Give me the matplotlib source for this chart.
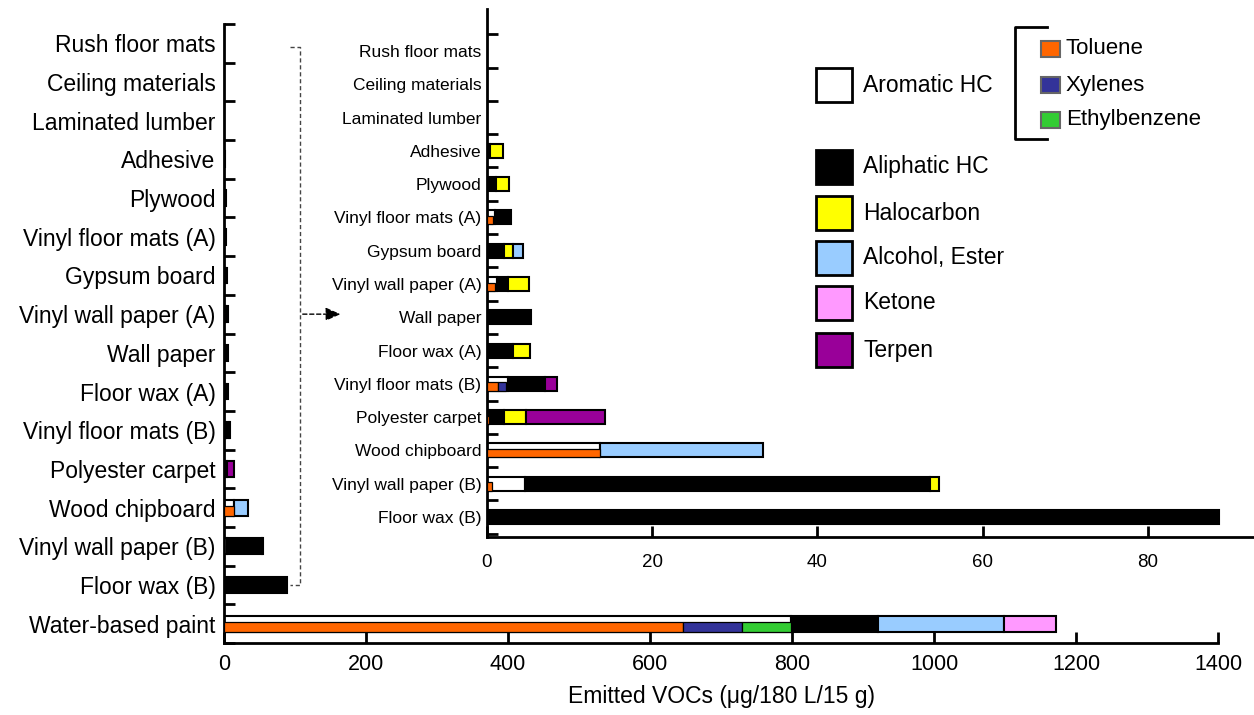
import matplotlib
matplotlib.use("Agg")
import matplotlib.pyplot as plt
from matplotlib.patches import Rectangle
from matplotlib.lines import Line2D
import numpy as np

plt.rcParams['font.family'] = ['Liberation Sans', 'DejaVu Sans']

# rows top to bottom
materials = ["Rush floor mats", "Ceiling materials", "Laminated lumber", "Adhesive",
             "Plywood", "Vinyl floor mats (A)", "Gypsum board", "Vinyl wall paper (A)",
             "Wall paper", "Floor wax (A)", "Vinyl floor mats (B)", "Polyester carpet",
             "Wood chipboard", "Vinyl wall paper (B)", "Floor wax (B)", "Water-based paint"]

aromatic     = [0, 0, 0, 0, 0, 1.0, 0, 1.2, 0, 0, 2.5, 0.3, 13.7, 4.6, 0, 798]
toluene      = [0, 0, 0, 0, 0, 0.7, 0, 1.0, 0, 0, 1.3, 0.3, 13.7, 0.6, 0, 646]
xylenes      = [0, 0, 0, 0, 0, 0, 0, 0, 0, 0, 1.0, 0, 0, 0, 0, 84]
ethylbenzene = [0, 0, 0, 0, 0, 0, 0, 0, 0, 0, 0, 0, 0, 0, 0, 68]
aliphatic    = [0, 0, 0, 0.4, 1.1, 1.9, 2.0, 1.3, 5.3, 3.1, 4.5, 1.7, 0, 49.0, 88.6, 123]
halocarbon   = [0, 0, 0, 1.5, 1.6, 0, 1.2, 2.6, 0, 2.1, 0, 2.7, 0, 1.1, 0, 0]
alcohol      = [0, 0, 0, 0, 0, 0, 1.2, 0, 0, 0, 0, 0, 19.7, 0, 0, 177]
ketone       = [0, 0, 0, 0, 0, 0, 0, 0, 0, 0, 0, 0, 0, 0, 0, 74]
terpen       = [0, 0, 0, 0, 0, 0, 0, 0, 0, 0, 1.5, 9.6, 0, 0, 0, 0]

main_groups = [("Aromatic HC", aromatic, "white"),
               ("Aliphatic HC", aliphatic, "black"),
               ("Halocarbon", halocarbon, "#ffff00"),
               ("Alcohol, Ester", alcohol, "#99ccff"),
               ("Ketone", ketone, "#ff99ff"),
               ("Terpen", terpen, "#990099")]
sub_groups = [("Toluene", toluene, "#ff6600"),
              ("Xylenes", xylenes, "#333399"),
              ("Ethylbenzene", ethylbenzene, "#33cc33")]

W, H = 1254, 715


def px(x, y):
    return x / W, 1 - y / H


def draw_bars(ax, rows, h, lw):
    n = len(rows)
    for k, i in enumerate(rows):
        y = n - 1 - k
        left = 0
        for name, vals, col in main_groups:
            v = vals[i]
            if v > 0:
                ax.barh(y, v, left=left, height=h, color=col, edgecolor="black",
                        linewidth=lw, zorder=2)
            left += v
        left = 0
        for name, vals, col in sub_groups:
            v = vals[i]
            if v > 0:
                ax.barh(y - 0.2 * h, v, left=left, height=0.6 * h, color=col,
                        edgecolor="black", linewidth=lw * 0.6, zorder=3)
            left += v


def style_axis(ax, n, ylo, yhi, lab_size, lab_pad, tick_size, tick_pad):
    for s in ["top", "right"]:
        ax.spines[s].set_visible(False)
    for s in ["left", "bottom"]:
        ax.spines[s].set_linewidth(2)
    ax.set_ylim(ylo, yhi)
    ax.set_yticks(np.arange(n), materials[:n][::-1])
    ax.set_yticks(np.arange(-0.5, n, 1.0), minor=True)
    ax.tick_params(axis="y", which="major", length=0, labelsize=lab_size, pad=lab_pad)
    ax.tick_params(axis="y", which="minor", direction="in", length=8, width=2)
    ax.tick_params(axis="x", direction="in", length=8, width=2,
                   labelsize=tick_size, pad=tick_pad)
    ax.set_facecolor("none")


fig = plt.figure(figsize=(12.54, 7.15), dpi=100)

# main axes, all 16 materials
ax = fig.add_axes([224 / W, 1 - 643 / H, (1218 - 224) / W, (643 - 24) / H])
draw_bars(ax, list(range(16)), 0.41, 1.5)
ax.set_xlim(0, 1400)
ax.set_xticks(np.arange(0, 1401, 200))
style_axis(ax, 16, -0.41, 15.44, 16.5, 6, 15.5, 8)
ax.set_xlabel("Emitted VOCs (\u03bcg/180 L/15 g)", fontsize=16.5, labelpad=7)

# dashed bracket + arrow pointing to the zoomed view
bx0, bx1 = 93, 107
ax.plot([bx0, bx1, bx1, bx0], [14.9, 14.9, 1, 1], ls=(0, (3, 2)), color="#444444",
        lw=1, clip_on=False, zorder=4)
ax.annotate("", xy=(168, 8), xytext=(bx1, 8),
            arrowprops=dict(arrowstyle="-|>,head_length=0.9,head_width=0.4",
                            ls=(0, (3, 2)), color="black", lw=1))

# inset axes, all except water-based paint
ax2 = fig.add_axes([487 / W, 1 - 537 / H, (W - 487) / W, (537 - 9) / H])
draw_bars(ax2, list(range(15)), 0.42, 1.5)
ax2.set_xlim(0, (W - 487) / 8.26)
ax2.set_xticks(np.arange(0, 81, 20))
style_axis(ax2, 15, -0.6, 15.26, 12.5, 4, 13.5, 12)

# legend
def box(x0, y0, x1, y1, fc, ec="black", lw=2):
    a, b = px(x0, y1)
    c, d = px(x1, y0)
    fig.add_artist(Rectangle((a, b), c - a, d - b, facecolor=fc, edgecolor=ec,
                             linewidth=lw, transform=fig.transFigure))


leg_y = [85, 167, 213, 258, 303, 350]
for (name, vals, col), yc in zip(main_groups, leg_y):
    box(816, yc - 17, 852, yc + 17, col)
    fig.text(*px(863, yc), name, fontsize=16.5, va="center", ha="left")

sub_y = [49, 85, 120]
for (name, vals, col), yc in zip(sub_groups, sub_y):
    box(1041, yc - 8, 1060, yc + 8, col, ec="#666666", lw=1.5)
    fig.text(*px(1066, yc), name, fontsize=16, va="center", ha="left")

xs = [px(1047, 27)[0], px(1015, 27)[0], px(1015, 139)[0], px(1047, 139)[0]]
ys = [px(0, 27)[1], px(0, 27)[1], px(0, 139)[1], px(0, 139)[1]]
fig.add_artist(Line2D(xs, ys, color="black", lw=2, transform=fig.transFigure))

fig.savefig("out.png", dpi=100)
